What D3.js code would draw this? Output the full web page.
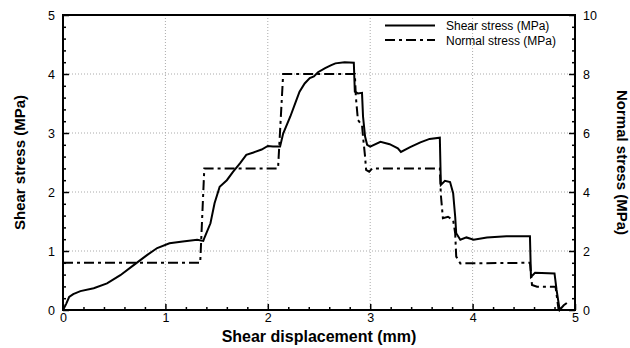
<!DOCTYPE html>
<html>
<head>
<meta charset="utf-8">
<script src="https://cdn.jsdelivr.net/npm/d3@7"></script>
<style>
  body { margin: 0; background: #fff; }
  svg { display: block; font-family: "Liberation Sans", Arial, sans-serif; }
</style>
</head>
<body>
<svg id="chart" width="630" height="348"></svg>
<script>
// ---- data ----
const shearX = [0,0.03,0.06,0.10,0.17,0.30,0.43,0.56,0.69,0.82,0.92,1.04,1.17,1.31,1.37,1.38,1.44,1.48,1.53,1.60,1.66,1.73,1.79,1.86,1.94,2.00,2.05,2.12,2.15,2.22,2.28,2.31,2.36,2.41,2.45,2.49,2.56,2.62,2.66,2.75,2.84,2.85,2.88,2.92,2.93,2.95,2.97,3.00,3.10,3.19,3.27,3.30,3.39,3.49,3.58,3.68,3.69,3.73,3.78,3.81,3.83,3.84,3.88,3.94,4.01,4.14,4.33,4.56,4.57,4.61,4.80,4.82,4.85,4.89,4.92];
const shearY = [0,0.10,0.22,0.27,0.32,0.37,0.45,0.59,0.76,0.93,1.05,1.13,1.16,1.19,1.17,1.22,1.47,1.81,2.09,2.20,2.34,2.49,2.63,2.67,2.72,2.78,2.77,2.77,2.99,3.28,3.56,3.70,3.84,3.93,3.96,4.03,4.10,4.15,4.18,4.20,4.19,3.70,3.67,3.68,3.28,2.94,2.80,2.77,2.85,2.81,2.74,2.68,2.76,2.84,2.90,2.92,2.12,2.19,2.17,1.98,1.58,1.30,1.19,1.23,1.19,1.23,1.25,1.25,0.56,0.63,0.62,0.34,0.00,0.08,0.12];
const normalX = [0,1.34,1.38,2.10,2.15,2.85,2.86,2.88,2.92,2.93,2.95,2.96,2.99,3.02,3.68,3.69,3.71,3.76,3.81,3.83,3.84,3.88,4.56,4.58,4.63,4.81,4.84];
const normalY = [1.6,1.6,4.8,4.8,8.0,8.0,7.23,6.44,6.27,5.87,5.2,4.75,4.69,4.8,4.8,3.9,3.11,3.16,3.05,2.6,1.81,1.58,1.6,0.85,0.79,0.79,0];
const xTicks = [0,1,2,3,4,5];
const yLeftTicks = [0,1,2,3,4,5];
const yRightTicks = [0,2,4,6,8,10];
const seriesNames = ["Shear stress (MPa)", "Normal stress (MPa)"];

// ---- layout ----
const L = 63, R = 575, T = 15, B = 310;
const svg = d3.select("#chart");
const x = d3.scaleLinear().domain([0,5]).range([L,R]);
const yL = d3.scaleLinear().domain([0,5]).range([B,T]);
const yR = d3.scaleLinear().domain([0,10]).range([B,T]);

// grid
const grid = svg.append("g").attr("stroke","#aaa").attr("stroke-width",1).attr("stroke-dasharray","1,2");
[1,2,3,4].forEach(v => {
  grid.append("line").attr("x1",x(v)).attr("x2",x(v)).attr("y1",T).attr("y2",B);
  grid.append("line").attr("x1",L).attr("x2",R).attr("y1",yL(v)).attr("y2",yL(v));
});

// lines
const shear = shearX.map((d,i)=>[d, shearY[i]]);
const normal = normalX.map((d,i)=>[d, normalY[i]]);
svg.append("path").datum(normal)
  .attr("d", d3.line().x(d=>x(d[0])).y(d=>yR(d[1])))
  .attr("fill","none").attr("stroke","#000").attr("stroke-width",2)
  .attr("stroke-dasharray","10,4,3,4");
svg.append("path").datum(shear)
  .attr("d", d3.line().x(d=>x(d[0])).y(d=>yL(d[1])))
  .attr("fill","none").attr("stroke","#000").attr("stroke-width",2);

// axes
function styleAxis(g){
  g.select(".domain").remove();
  g.selectAll(".tick line").attr("stroke","#000").attr("stroke-width",1.5);
  g.selectAll(".tick text").attr("fill","#000").style("font-size","12.5px").style("font-family","Liberation Sans, Arial, sans-serif");
}
const minorX = d3.range(0,5.001,0.2).filter(v=>Math.abs(v-Math.round(v))>1e-6);
const minorYL = d3.range(0,5.001,0.2).filter(v=>Math.abs(v-Math.round(v))>1e-6);
const minorYR = d3.range(0,10.001,0.4).filter(v=>Math.abs(v/2-Math.round(v/2))>1e-6);

svg.append("g").attr("transform",`translate(0,${B})`)
  .call(d3.axisBottom(x).tickValues(xTicks).tickSize(-6).tickPadding(3).tickFormat(d3.format("d"))).call(styleAxis);
svg.append("g").attr("transform",`translate(0,${B})`)
  .call(d3.axisBottom(x).tickValues(minorX).tickSize(-3).tickFormat("")).call(styleAxis);
svg.append("g").attr("transform",`translate(${L},0)`)
  .call(d3.axisLeft(yL).tickValues(yLeftTicks).tickSize(-6).tickPadding(8).tickFormat(d3.format("d"))).call(styleAxis);
svg.append("g").attr("transform",`translate(${L},0)`)
  .call(d3.axisLeft(yL).tickValues(minorYL).tickSize(-3).tickFormat("")).call(styleAxis);
svg.append("g").attr("transform",`translate(${R},0)`)
  .call(d3.axisRight(yR).tickValues(yRightTicks).tickSize(-6).tickPadding(8).tickFormat(d3.format("d"))).call(styleAxis);
svg.append("g").attr("transform",`translate(${R},0)`)
  .call(d3.axisRight(yR).tickValues(minorYR).tickSize(-3).tickFormat("")).call(styleAxis);

// frame
svg.append("rect").attr("x",L).attr("y",T).attr("width",R-L).attr("height",B-T)
  .attr("fill","none").attr("stroke","#000").attr("stroke-width",2);

// axis titles
svg.append("text").attr("x",319).attr("y",342).attr("text-anchor","middle")
  .style("font-size","16px").style("font-weight","bold").text("Shear displacement (mm)");
svg.append("text").attr("transform",`translate(25,${(T+B)/2}) rotate(-90)`).attr("text-anchor","middle")
  .style("font-size","15px").style("font-weight","bold").text("Shear stress (MPa)");
svg.append("text").attr("transform",`translate(617,${(T+B)/2}) rotate(90)`).attr("text-anchor","middle")
  .style("font-size","15px").style("font-weight","bold").text("Normal stress (MPa)");

// legend
const lg = svg.append("g");
[0,1].forEach(i => {
  const yy = 25.5 + i*14.5;
  lg.append("line").attr("x1",385).attr("x2",435).attr("y1",yy).attr("y2",yy)
    .attr("stroke","#000").attr("stroke-width",2)
    .attr("stroke-dasharray", i===1 ? "10,4,3,4" : null);
  lg.append("text").attr("x",446).attr("y",yy+4.5).style("font-size","12px").text(seriesNames[i]);
});
</script>
</body>
</html>
